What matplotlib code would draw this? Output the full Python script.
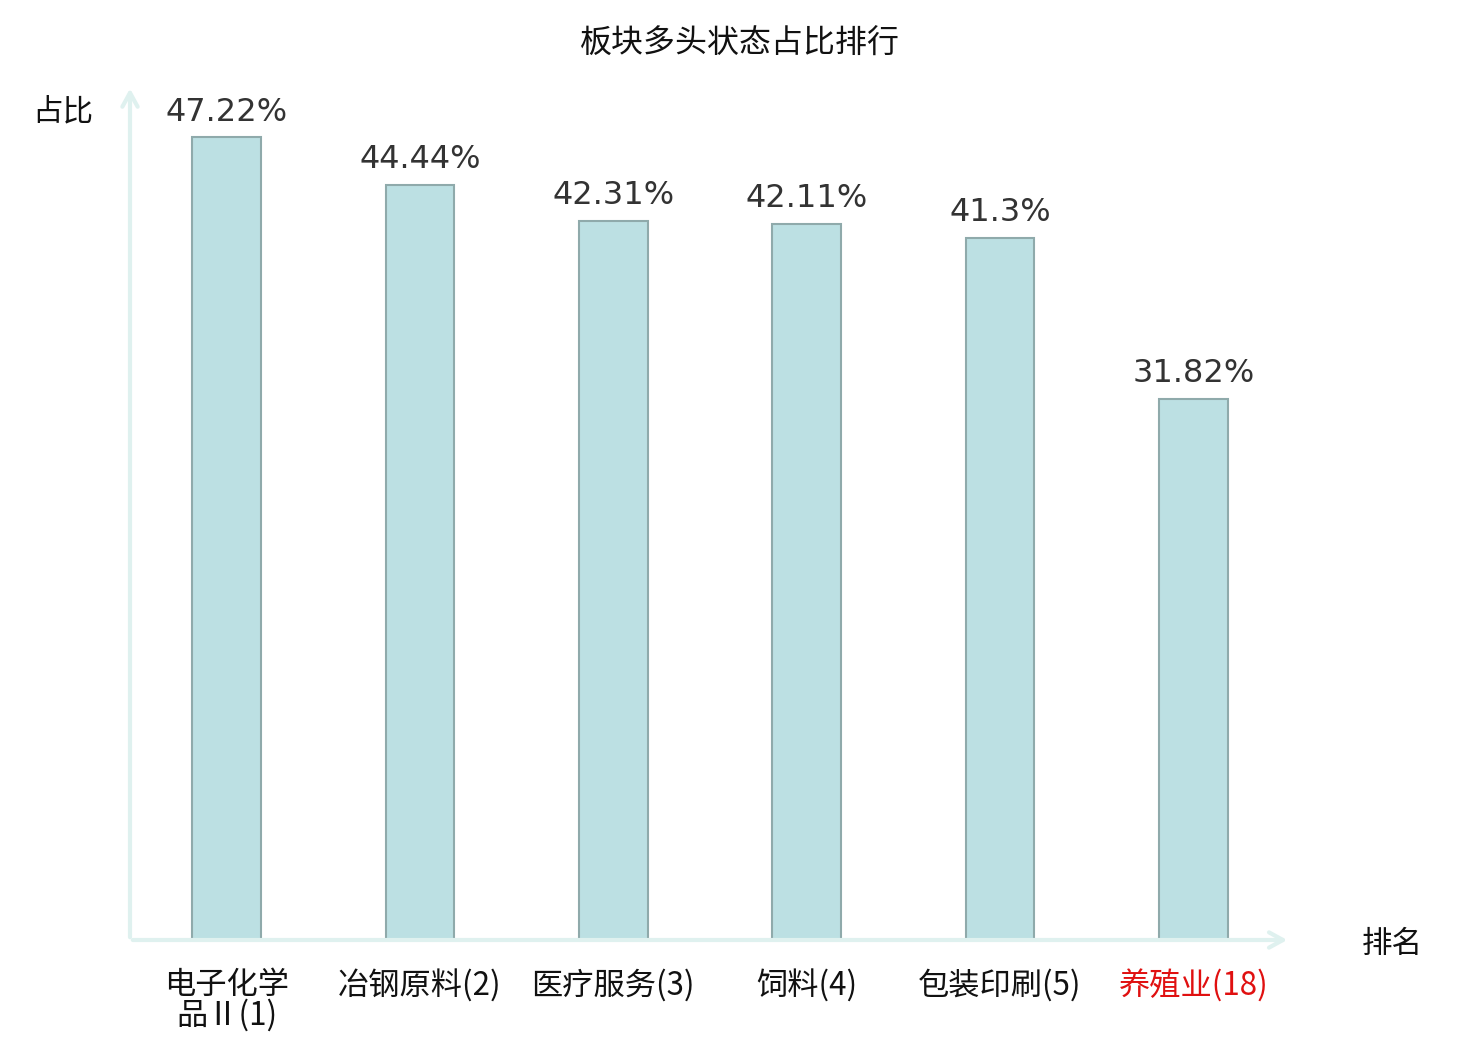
import matplotlib
matplotlib.use("Agg")
import matplotlib.pyplot as plt

plt.rcParams['font.family'] = ['Noto Sans CJK SC', 'DejaVu Sans']

categories = ["电子化学\n品Ⅱ(1)", "冶钢原料(2)", "医疗服务(3)", "饲料(4)", "包装印刷(5)", "养殖业(18)"]
values = [47.22, 44.44, 42.31, 42.11, 41.3, 31.82]
value_labels = ["47.22%", "44.44%", "42.31%", "42.11%", "41.3%", "31.82%"]
label_colors = ["#111111", "#111111", "#111111", "#111111", "#111111", "#e01010"]

fig = plt.figure(figsize=(14.8, 10.4), dpi=100)
ax = fig.add_axes([130/1480, 100/1040, 1160/1480, 850/1040])

x = list(range(len(categories)))
ax.bar(x, values, width=0.355, color="#bce0e3", edgecolor="#8faaab", linewidth=1.5, zorder=2)

for xi, v, lab in zip(x, values, value_labels):
    ax.annotate(lab, (xi, v), xytext=(0, 7), textcoords="offset points",
                ha="center", va="bottom", fontsize=23, color="#333333",
                family=["DejaVu Sans"])

ax.set_xlim(-0.5, 5.5)
ax.set_ylim(0, 50)
for s in ax.spines.values():
    s.set_visible(False)
ax.set_yticks([])
ax.set_xticks(x)
ax.set_xticklabels(categories, fontsize=22.5, linespacing=0.9)
for t, c in zip(ax.get_xticklabels(), label_colors):
    t.set_color(c)
ax.tick_params(axis="x", length=0, pad=21)

axis_col = "#dff1ef"
ax.annotate("", xy=(1.0, 0), xytext=(0, 0), xycoords="axes fraction",
            arrowprops=dict(arrowstyle="->,head_length=1.0,head_width=0.55", color=axis_col, lw=3),
            annotation_clip=False)
ax.annotate("", xy=(0, 1.005), xytext=(0, 0), xycoords="axes fraction",
            arrowprops=dict(arrowstyle="->,head_length=1.0,head_width=0.55", color=axis_col, lw=3),
            annotation_clip=False)

fig.text(740/1480, 1 - 44/1040, "板块多头状态占比排行", ha="center", va="center", fontsize=23, color="#111111")
fig.text(63/1480, 1 - 112/1040, "占比", ha="center", va="center", fontsize=22, color="#111111")
fig.text(1392/1480, 1 - 944/1040, "排名", ha="center", va="center", fontsize=22, color="#111111")

fig.savefig("out.png", dpi=100, facecolor="white")
